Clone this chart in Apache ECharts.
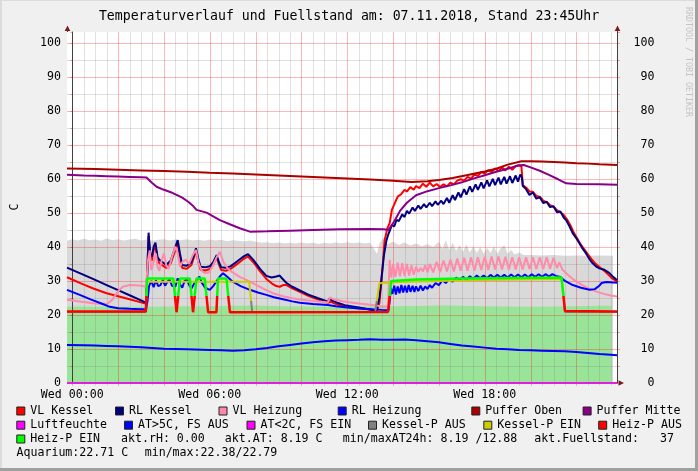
<!DOCTYPE html>
<html><head><meta charset="utf-8">
<script src="https://cdn.jsdelivr.net/npm/echarts@6/dist/echarts.min.js"></script>
<style>html,body{margin:0;padding:0;background:#F0F0F0}#c{width:698px;height:471px}</style>
</head><body><div id="c"></div>
<script>
// ---------- axis / tick data ----------
const X_MIN = -0.23, X_MAX = 23.77, Y_MAX = 103.2;
const xLabelHours = [0, 6, 12, 18];
const xLabelDay = 'Wed';

// ---------- series data: [hour, value] ----------
const fuellstand = [[-0.23,41.8],[0,42.3],[0.25,41.9],[0.5,42.4],[0.75,42.0],[1,42.2],[1.25,41.8],[1.5,42.5],[1.75,42.0],[2,42.3],[2.25,41.9],[2.5,42.2],[2.75,42.4],[3,41.9],[3.25,42.2],[3.5,41.8],[3.75,42.1],[4,42.3],[4.25,41.9],[4.5,42.2],[4.75,42.0],[5,42.3],[5.25,41.9],[5.5,42.1],[5.75,41.8],[6,42.2],[6.25,41.9],[6.5,42.1],[6.75,41.7],[7,42.0],[7.25,41.8],[7.5,41.6],[7.75,41.9],[8,41.5],[8.25,41.2],[8.5,41.4],[8.75,41.1],[9,41.3],[9.25,41.0],[9.5,41.2],[9.75,41.0],[10,41.3],[10.25,41.0],[10.5,41.2],[10.75,40.9],[11,41.2],[11.25,41.0],[11.5,41.3],[11.75,41.1],[12,41.4],[12.25,41.1],[12.5,41.3],[12.75,41.0],[13.0,41.2],[13.2,39.0],[13.3,38.0],[13.4,41.0],[13.6,42.8],[13.75,40.8],[14,41.5],[14.25,40.6],[14.5,41.3],[14.75,40.4],[15,41.0],[15.25,40.2],[15.5,40.8],[15.75,40.0],[16,41.5],[16.15,39.4],[16.3,42.0],[16.45,39.2],[16.6,41.2],[16.75,38.8],[16.9,40.6],[17.05,38.6],[17.2,40.8],[17.35,38.4],[17.5,40.2],[17.65,38.2],[17.8,40.0],[17.95,38.0],[18.1,39.8],[18.25,38.2],[18.4,40.2],[18.55,38.0],[18.7,39.6],[18.85,40.6],[19.0,38.0],[19.15,39.2],[19.3,37.8],[19.5,38.4],[19.7,37.6],[20,37.6],[20.5,37.5],[21,37.6],[21.5,37.4],[22,37.5],[22.5,37.4],[23,37.5],[23.6,37.4]];
const aquarium = [[-0.23,22.5],[1,22.45],[2,22.4],[3,22.45],[4,22.5],[5,22.55],[6,22.6],[7,22.7],[8,22.75],[9,22.6],[10,22.5],[11,22.4],[12,22.45],[13,22.5],[14,22.55],[15,22.65],[16,22.75],[17,22.7],[18,22.6],[19,22.5],[20,22.45],[21,22.5],[22,22.6],[23,22.7],[23.53,22.7]];
const vlKessel = [[-0.23,31.1],[0.4,29.2],[0.92,27.8],[1.5,26.4],[2.0,25.5],[2.5,24.6],[3.0,23.7],[3.22,23.3],[3.27,33.0],[3.33,43.2],[3.4,37.5],[3.47,36.0],[3.55,39.0],[3.63,40.5],[3.72,36.2],[3.8,35.2],[4.0,34.3],[4.1,33.8],[4.3,35.2],[4.45,38.2],[4.6,41.3],[4.7,37.0],[4.8,33.8],[5.0,33.6],[5.2,34.7],[5.3,36.8],[5.4,38.8],[5.5,35.6],[5.6,33.3],[5.8,33.1],[6.0,33.5],[6.15,34.8],[6.3,37.0],[6.4,34.8],[6.5,33.2],[6.7,33.0],[6.9,33.5],[7.1,34.5],[7.3,35.5],[7.5,36.6],[7.67,37.2],[7.9,35.5],[8.2,32.8],[8.47,30.6],[8.7,29.3],[8.9,28.5],[9.05,28.3],[9.2,28.8],[9.35,28.8],[9.6,27.8],[9.93,26.8],[10.3,25.6],[10.7,24.6],[11.15,23.6],[11.22,23.3],[11.3,23.9],[11.4,23.5],[11.6,23.0],[11.89,22.6],[12.5,22.0],[13.0,21.6],[13.3,21.3],[13.4,23.5],[13.5,30.5],[13.63,42.0],[13.75,45.5],[13.85,47.0],[13.95,51.0],[14.05,52.5],[14.2,54.8],[14.35,55.5],[14.5,56.8],[14.6,56.3],[14.75,57.6],[14.9,56.8],[15.0,57.9],[15.15,57.3],[15.3,58.6],[15.45,57.7],[15.6,58.9],[15.75,57.8],[15.9,58.5],[16.05,57.6],[16.2,58.4],[16.35,57.8],[16.5,58.9],[16.65,58.4],[16.8,59.5],[16.95,59.9],[17.1,59.5],[17.25,60.6],[17.4,60.1],[17.55,61.3],[17.7,60.9],[17.85,62.1],[18.0,61.6],[18.15,62.6],[18.3,62.0],[18.45,63.1],[18.6,62.3],[18.75,63.4],[18.9,62.5],[19.05,63.6],[19.2,62.7],[19.35,63.8],[19.5,64.0],[19.6,63.6],[19.66,58.2],[19.8,57.5],[19.95,56.3],[20.1,56.2],[20.25,55.0],[20.4,54.8],[20.55,53.6],[20.7,53.2],[20.85,52.3],[21.0,51.8],[21.15,50.8],[21.3,50.2],[21.45,49.4],[21.6,48.0],[21.75,46.2],[21.9,44.0],[22.05,42.3],[22.2,40.6],[22.35,39.2],[22.5,37.8],[22.65,36.5],[22.8,35.3],[22.95,34.4],[23.1,33.6],[23.25,32.8],[23.4,31.8],[23.55,30.8],[23.77,29.8]];
const rlKessel = [[-0.23,33.9],[0.5,31.8],[1,30.3],[1.5,28.8],[2,27.3],[2.5,25.8],[3,24.3],[3.22,23.6],[3.28,33.0],[3.33,44.2],[3.4,38.0],[3.47,37.1],[3.55,40.0],[3.63,41.3],[3.72,37.0],[3.8,36.2],[4.0,35.2],[4.1,34.7],[4.3,36.0],[4.45,39.0],[4.6,42.0],[4.7,38.0],[4.8,34.7],[5.0,34.5],[5.2,35.5],[5.3,37.5],[5.4,39.6],[5.5,36.5],[5.6,34.2],[5.8,34.0],[6.0,34.3],[6.15,35.5],[6.3,37.6],[6.4,35.5],[6.5,34.0],[6.7,33.9],[6.9,34.3],[7.1,35.3],[7.3,36.3],[7.5,37.3],[7.67,37.9],[7.9,36.2],[8.2,33.5],[8.47,31.5],[8.7,31.0],[8.9,31.3],[9.05,31.6],[9.15,30.8],[9.35,29.4],[9.6,28.3],[9.93,27.2],[10.3,26.0],[10.7,25.0],[11.15,23.9],[11.22,24.8],[11.35,24.2],[11.6,23.5],[11.89,22.9],[12.5,22.2],[13.0,21.6],[13.27,21.2],[13.4,25.0],[13.5,31.3],[13.6,37.5],[13.7,41.6],[13.78,43.5],[13.85,44.0],[13.95,46.5],[14.05,46.0],[14.15,48.0],[14.25,47.6],[14.4,49.6],[14.5,48.8],[14.6,50.6],[14.7,49.8],[14.85,51.6],[14.95,50.6],[15.1,52.2],[15.2,51.2],[15.35,52.6],[15.45,51.6],[15.6,53.0],[15.7,52.0],[15.85,53.4],[15.95,52.4],[16.1,53.6],[16.2,52.6],[16.35,54.4],[16.45,53.0],[16.6,55.2],[16.7,53.8],[16.85,56.0],[16.95,54.6],[17.1,57.0],[17.2,55.4],[17.35,57.8],[17.45,56.2],[17.6,58.4],[17.7,56.8],[17.85,59.0],[17.95,57.2],[18.1,59.6],[18.2,57.8],[18.35,60.0],[18.45,58.2],[18.6,60.4],[18.7,58.4],[18.85,60.6],[18.95,58.6],[19.1,60.8],[19.2,58.8],[19.35,61.0],[19.45,59.2],[19.55,61.3],[19.62,60.5],[19.66,57.9],[19.8,57.0],[19.95,55.3],[20.1,56.0],[20.25,54.2],[20.4,54.6],[20.55,52.9],[20.7,53.3],[20.85,51.7],[21.0,52.0],[21.15,50.2],[21.3,50.4],[21.45,48.6],[21.55,47.9],[21.7,46.0],[21.84,44.0],[22.0,42.5],[22.13,41.1],[22.27,39.5],[22.42,38.1],[22.56,36.5],[22.71,35.2],[22.85,34.3],[23.0,33.7],[23.1,33.5],[23.22,33.3],[23.3,33.8],[23.44,32.3],[23.6,31.2],[23.77,30.3]];
const vlHeizung = [[-0.23,24.5],[0.5,23.8],[1.0,23.4],[1.5,23.2],[1.75,24.5],[2.0,27.0],[2.2,28.3],[2.5,28.8],[2.9,28.7],[3.22,28.3],[3.3,36.0],[3.38,39.0],[3.45,33.2],[3.55,35.5],[3.65,38.1],[3.72,34.2],[3.8,33.0],[3.9,36.0],[4.0,38.1],[4.1,34.7],[4.2,33.5],[4.35,37.0],[4.5,40.1],[4.6,38.1],[4.7,34.2],[4.8,35.5],[4.95,36.3],[5.1,35.0],[5.25,37.5],[5.4,39.1],[5.5,35.5],[5.65,33.0],[5.8,32.3],[5.95,32.5],[6.1,34.0],[6.3,37.0],[6.44,38.6],[6.6,35.5],[6.8,33.5],[7.0,32.5],[7.3,31.2],[7.6,30.3],[8.0,28.9],[8.4,27.5],[8.76,26.4],[9.2,25.5],[9.6,24.9],[10,24.5],[10.5,24.1],[11,23.8],[11.15,23.7],[11.25,25.2],[11.4,24.6],[11.67,24.2],[12,23.8],[12.5,23.4],[13,23.0],[13.25,22.8],[13.5,22.6],[13.78,22.5],[13.85,36.2],[13.92,31.0],[14.0,35.0],[14.1,31.2],[14.2,35.4],[14.3,31.4],[14.4,35.2],[14.5,31.5],[14.6,35.0],[14.7,31.6],[14.8,34.6],[14.9,31.8],[15.0,34.2],[15.1,32.6],[15.2,33.8],[15.3,32.8],[15.4,34.6],[15.5,32.6],[15.6,35.0],[15.75,32.5],[15.9,35.6],[16.05,32.6],[16.2,36.0],[16.35,32.8],[16.5,36.3],[16.65,32.8],[16.8,36.6],[16.95,33.0],[17.1,36.8],[17.25,33.0],[17.4,37.0],[17.55,33.0],[17.7,37.0],[17.85,33.2],[18.0,37.1],[18.15,33.2],[18.3,37.2],[18.45,33.4],[18.6,37.2],[18.75,33.4],[18.9,37.1],[19.05,33.4],[19.2,37.0],[19.35,33.4],[19.5,37.0],[19.65,33.4],[19.8,37.0],[19.95,33.5],[20.1,37.0],[20.25,33.5],[20.4,37.0],[20.55,33.5],[20.7,37.0],[20.85,33.6],[21.0,36.8],[21.15,33.8],[21.25,35.5],[21.4,33.2],[21.6,32.0],[21.8,30.8],[22.0,29.8],[22.3,28.6],[22.6,27.6],[22.9,26.8],[23.2,26.2],[23.5,25.7],[23.77,25.4]];
const rlHeizung = [[-0.23,27.4],[0.3,26.0],[0.8,24.6],[1.3,23.3],[1.64,22.4],[2,22.0],[2.5,21.8],[3,21.7],[3.22,21.7],[3.28,24.0],[3.35,28.5],[3.45,30.0],[3.55,28.2],[3.65,30.2],[3.75,28.5],[3.85,28.8],[3.95,30.3],[4.05,28.6],[4.15,29.8],[4.25,30.4],[4.35,28.6],[4.5,28.4],[4.6,30.8],[4.7,29.0],[4.8,28.0],[4.9,30.0],[5.0,30.6],[5.1,28.8],[5.2,27.8],[5.3,29.0],[5.45,30.5],[5.55,31.3],[5.65,29.5],[5.8,28.0],[6.0,27.4],[6.15,28.5],[6.3,30.0],[6.45,31.4],[6.58,32.3],[6.8,31.0],[7.0,29.8],[7.35,28.5],[7.75,27.4],[8.1,26.6],[8.47,25.9],[8.8,25.2],[9.2,24.6],[9.6,24.0],[9.93,23.6],[10.5,23.2],[11.15,22.9],[11.5,22.6],[11.89,22.3],[12.5,21.9],[13,21.7],[13.5,21.5],[13.8,21.4],[13.85,24.0],[13.9,28.0],[13.97,26.2],[14.05,28.6],[14.12,26.0],[14.2,28.4],[14.28,26.4],[14.36,28.8],[14.44,26.6],[14.52,28.6],[14.6,26.6],[14.68,28.8],[14.76,26.8],[14.85,28.6],[14.93,26.8],[15.0,28.4],[15.1,27.0],[15.2,28.6],[15.3,27.2],[15.4,28.4],[15.5,27.6],[15.6,28.8],[15.7,28.0],[15.85,29.4],[16.0,28.8],[16.15,30.2],[16.3,29.4],[16.45,30.6],[16.6,29.8],[16.75,31.0],[16.9,30.2],[17.05,31.2],[17.2,30.4],[17.35,31.4],[17.5,30.6],[17.65,31.6],[17.8,30.8],[17.95,31.6],[18.1,30.8],[18.25,31.8],[18.4,31.0],[18.55,31.8],[18.7,31.0],[18.85,31.8],[19.0,31.0],[19.15,31.9],[19.3,31.1],[19.45,31.9],[19.6,31.1],[19.75,31.9],[19.9,31.1],[20.05,32.0],[20.2,31.2],[20.35,32.0],[20.5,31.2],[20.65,32.0],[20.8,31.3],[20.95,32.0],[21.1,31.5],[21.3,31.2],[21.5,30.0],[21.84,28.8],[22.2,28.0],[22.57,27.4],[22.8,27.6],[23.0,28.6],[23.1,29.4],[23.3,29.7],[23.77,29.5]];
const pufferOben = [[-0.23,63.1],[1,62.9],[2,62.7],[3,62.5],[4,62.3],[5,62.1],[6,61.8],[7,61.6],[8,61.3],[9,61.0],[10,60.7],[11,60.4],[12,60.1],[13,59.8],[14,59.5],[14.8,59.1],[15.5,59.3],[16,59.7],[16.6,60.3],[17.2,61.1],[18,62.2],[18.5,63.0],[19,64.2],[19.6,65.2],[20,65.2],[20.5,65.1],[21,65.0],[21.5,64.8],[22,64.6],[22.5,64.5],[23,64.3],[23.77,64.1]];
const pufferMitte = [[-0.23,61.2],[0.5,61.0],[1,60.9],[1.5,60.8],[2,60.7],[2.5,60.6],[3,60.5],[3.24,60.4],[3.45,59.0],[3.68,57.7],[4.0,56.8],[4.3,56.1],[4.55,55.3],[4.8,54.5],[5.06,53.3],[5.25,52.2],[5.42,50.9],[5.86,50.1],[6.15,49.0],[6.44,47.9],[6.9,46.6],[7.31,45.5],[7.75,44.5],[8.5,44.6],[9.5,44.8],[10.5,45.0],[11.67,45.2],[13,45.3],[13.6,45.2],[13.8,45.0],[14.0,47.0],[14.3,50.6],[14.6,53.0],[15.0,55.2],[15.5,56.4],[16,57.3],[16.5,58.1],[17,59.0],[17.5,60.1],[18,61.1],[18.5,62.1],[19,63.0],[19.5,64.0],[19.7,64.1],[20,63.4],[20.4,62.4],[20.8,61.2],[21.2,59.9],[21.55,58.7],[22,58.5],[23,58.4],[23.77,58.3]];
const luftfeuchte = [[-0.23,0],[12,0],[23.77,0]];
const aussenTemp = [[-0.23,11.2],[0.5,11.1],[1,11.0],[1.5,10.9],[2,10.8],[3,10.5],[4,10.1],[5,9.9],[6,9.7],[6.5,9.6],[7,9.5],[7.5,9.6],[8,9.9],[8.5,10.3],[9,10.8],[9.5,11.2],[10,11.6],[10.5,12.0],[11,12.3],[11.5,12.5],[12,12.6],[12.5,12.7],[13,12.88],[13.5,12.75],[14,12.7],[14.5,12.8],[15,12.6],[15.5,12.3],[16,12.0],[16.5,11.5],[17,11.0],[17.5,10.7],[18,10.4],[18.5,10.1],[19,9.9],[19.5,9.7],[20,9.6],[20.5,9.5],[21,9.4],[21.5,9.3],[22,9.1],[22.5,8.8],[23,8.5],[23.5,8.3],[23.77,8.19]];
const kesselPumpe = [[-0.23,20.9],[3.2,20.9],[3.27,29.8],[7.72,29.8],[7.85,20.9],[13.22,20.9],[13.4,29.3],[14,29.6],[16,30.0],[18,30.3],[21.35,30.6],[21.5,20.9],[23.77,20.9]];
const heizPumpe = [[-0.23,21.0],[3.21,21.0],[3.27,30.7],[4.41,30.7],[4.55,20.8],[4.62,20.8],[4.7,30.7],[5.13,30.7],[5.27,20.8],[5.35,20.8],[5.42,30.7],[5.78,30.7],[5.93,20.8],[6.29,20.8],[6.36,30.7],[6.73,30.7],[6.88,20.8],[13.78,20.9],[13.92,30.0],[15,30.4],[17,30.7],[19,30.9],[21.35,31.0],[21.5,21.2],[23.77,21.0]];

// ---------- legend text ----------
const legendRows = [
  [['VL Kessel','#FF0000',30.3],['RL Kessel','#000080',129],['VL Heizung','#FF8AAA',232.5],['RL Heizung','#0000FF',351.7],['Puffer Oben','#AA0000',485.3],['Puffer Mitte','#880088',596.6]],
  [['Luftfeuchte','#FF00FF',30.3],['AT>5C, FS AUS','#0000FF',138],['AT<2C, FS EIN','#FF00FF',260.5],['Kessel-P AUS','#808080',382],['Kessel-P EIN','#CCCC00',497.3],['Heiz-P AUS','#FF0000',612.2]],
  [['Heiz-P EIN','#00FF00',30.3]]
];
const infoTexts = [
  ['akt.rH: 0.00',121,2],['akt.AT: 8.19 C',224.8,2],['min/maxAT24h: 8.19 /12.88',342.8,2],['akt.Fuellstand:   37',534.3,2],
  ['Aquarium:22.71 C',16.5,3],['min/max:22.38/22.79',144.7,3]
];
const titleText = 'Temperaturverlauf und Fuellstand am: 07.11.2018, Stand 23:45Uhr';

// ---------- rendering ----------
const MONO = "'DejaVu Sans Mono', monospace";
const FS = 11.6;
const rowY = [411, 425.2, 439, 453.4];
const GRID_MAJ = 'rgba(255,0,0,0.28)';
const GRID_MIN = 'rgba(120,120,120,0.22)';

// vertical grid line table: [hour, major]
const vGrid = [];
for (let i = 0; i <= 47; i++) vGrid.push([i * 0.5, (i % 4 === 0) ? 1 : 0]);

const chart = echarts.init(document.getElementById('c'), null, {renderer: 'canvas'});

function lineSeries(name, data, color, z, width) {
  return {name, type: 'line', data, showSymbol: false, symbol: 'none', z: z || 3,
    lineStyle: {color, width: width || 2}, itemStyle: {color}, silent: true, animation: false};
}

const graphics = [];
graphics.push({type:'rect', shape:{x:0,y:0,width:698,height:1}, style:{fill:'#DCDCDC'}, z:100});
graphics.push({type:'rect', shape:{x:0,y:0,width:2,height:471}, style:{fill:'#DCDCDC'}, z:100});
graphics.push({type:'rect', shape:{x:695,y:0,width:3,height:471}, style:{fill:'#A0A0A0'}, z:100});
graphics.push({type:'rect', shape:{x:0,y:468,width:698,height:3}, style:{fill:'#A0A0A0'}, z:100});
graphics.push({type:'text', x:349, y:16.5, style:{text:titleText, font:'13.2px ' + MONO, fill:'#000', align:'center', verticalAlign:'middle'}, z:100});
graphics.push({type:'text', x:14.5, y:207, rotation:Math.PI/2, style:{text:'C', font:FS + 'px ' + MONO, fill:'#000', align:'center', verticalAlign:'middle'}, z:100});
graphics.push({type:'text', x:688, y:62, rotation:-Math.PI/2, style:{text:'RRDTOOL / TOBI OETIKER', font:'8.3px ' + MONO, fill:'#C4C4C4', align:'center', verticalAlign:'middle'}, z:100});
legendRows.forEach((row, r) => {
  row.forEach(([txt, col, x]) => {
    graphics.push({type:'rect', shape:{x:x-13.5, y:rowY[r]-4, width:8, height:8}, style:{fill:col, stroke:'#222', lineWidth:1}, z:100});
    graphics.push({type:'text', x:x, y:rowY[r], style:{text:txt, font:FS + 'px ' + MONO, fill:'#000', verticalAlign:'middle'}, z:100});
  });
});
infoTexts.forEach(([txt, x, r]) => {
  graphics.push({type:'text', x:x, y:rowY[r], style:{text:txt, font:FS + 'px ' + MONO, fill:'#000', verticalAlign:'middle'}, z:100});
});

const yLabel = {fontFamily: MONO, fontSize: FS, color: '#000', formatter: v => (Math.abs(v % 10) < 1e-6 && v <= 100) ? String(v) : ''};

const option = {
  animation: false,
  backgroundColor: '#F0F0F0',
  grid: {left: 67, top: 32, width: 550, height: 351, show: true, backgroundColor: '#FFFFFF', borderWidth: 0},
  xAxis: {type: 'value', min: X_MIN, max: X_MAX, z: 10,
    axisLine: {show: false}, splitLine: {show: false}, axisTick: {show: false},
    axisLabel: {customValues: xLabelHours, margin: 6, fontFamily: MONO, fontSize: FS, color: '#000',
      formatter: v => xLabelDay + ' ' + String(Math.round(v)).padStart(2, '0') + ':00'}},
  yAxis: [
    {type: 'value', min: 0, max: Y_MAX, interval: 5, position: 'left', z: 2,
      axisLine: {show: true, lineStyle: {color: '#404040', width: 1}},
      axisTick: {show: true, inside: false, length: 2, lineStyle: {color: 'rgba(255,0,0,0.35)'}},
      splitLine: {show: true, showMinLine: true, showMaxLine: false, lineStyle: {color: [GRID_MAJ, GRID_MIN], width: 1}},
      axisLabel: Object.assign({margin: 6}, yLabel)},
    {type: 'value', min: 0, max: Y_MAX, interval: 5, position: 'right', z: 2,
      axisLine: {show: true, lineStyle: {color: '#404040', width: 1}},
      axisTick: {show: true, inside: false, length: 3, lineStyle: {color: 'rgba(255,0,0,0.35)'}},
      splitLine: {show: false},
      axisLabel: Object.assign({margin: 37.5, align: 'right'}, yLabel)}
  ],
  visualMap: [
    {type: 'piecewise', show: false, seriesIndex: 12, dimension: 1,
      pieces: [{gte: 25.5, lte: 200, color: '#00FF00'}, {gte: -100, lt: 25.5, color: '#FF0000'}]},
    {type: 'piecewise', show: false, seriesIndex: 11, dimension: 1,
      pieces: [{gte: 24, lte: 200, color: '#CCCC00'}, {gte: -100, lt: 24, color: '#808080'}]}
  ],
  series: [
    {name: 'Fuellstand', type: 'line', data: fuellstand, showSymbol: false, symbol: 'none', z: 1, silent: true,
      lineStyle: {width: 0}, areaStyle: {color: '#D9D9D9', opacity: 1}},
    {name: 'Aquarium', type: 'line', data: aquarium, showSymbol: false, symbol: 'none', z: 1, silent: true,
      lineStyle: {width: 0}, areaStyle: {color: '#9AE49A', opacity: 1}},
    {type: 'custom', data: vGrid, z: 2, silent: true, clip: false, encode: {x: 0, y: 1},
      renderItem: (params, api) => {
        const h = api.value(0), maj = api.value(1);
        const top = api.coord([h, Y_MAX]), bot = api.coord([h, 0]);
        const x = Math.round(top[0]) + 0.5;
        return {type: 'line', shape: {x1: x, y1: top[1], x2: x, y2: bot[1] + 3}, style: {stroke: maj ? GRID_MAJ : GRID_MIN, lineWidth: 1}};
      }},
    lineSeries('VL Kessel', vlKessel, '#FF0000', 3),
    lineSeries('RL Kessel', rlKessel, '#000080', 3),
    lineSeries('VL Heizung', vlHeizung, '#FF8AAA', 3),
    lineSeries('RL Heizung', rlHeizung, '#0000FF', 3),
    lineSeries('Puffer Oben', pufferOben, '#AA0000', 3),
    lineSeries('Puffer Mitte', pufferMitte, '#880088', 3),
    Object.assign(lineSeries('Luftfeuchte', luftfeuchte, '#E020E0', 4), {clip: false}),
    lineSeries('AT', aussenTemp, '#0000FF', 3),
    {name: 'Kessel-P', type: 'line', data: kesselPumpe, showSymbol: false, symbol: 'none', z: 3, silent: true, lineStyle: {width: 2}},
    {name: 'Heiz-P', type: 'line', data: heizPumpe, showSymbol: false, symbol: 'none', z: 4, silent: true, lineStyle: {width: 2.5}}
  ],
  graphic: graphics
};
chart.setOption(option);

// axis arrows, positioned from the chart's own scales
const pTL = chart.convertToPixel({gridIndex: 0}, [X_MIN, Y_MAX]);
const pTR = chart.convertToPixel({gridIndex: 0}, [X_MAX, Y_MAX]);
const pBR = chart.convertToPixel({gridIndex: 0}, [X_MAX, 0]);
const arrowCol = '#7A1A1A';
const arrows = [];
[pTL, pTR].forEach(p => {
  const x = Math.round(p[0]) + 0.5, y = p[1];
  arrows.push({type: 'line', shape: {x1: x, y1: y, x2: x, y2: y - 3}, style: {stroke: '#404040', lineWidth: 1}, z: 101});
  arrows.push({type: 'polygon', shape: {points: [[x, y - 6.5], [x - 2.8, y - 1], [x + 2.8, y - 1]]}, style: {fill: arrowCol}, z: 101});
});
arrows.push({type: 'polygon', shape: {points: [[pBR[0] + 7, pBR[1]], [pBR[0] + 1.5, pBR[1] - 2.8], [pBR[0] + 1.5, pBR[1] + 2.8]]}, style: {fill: arrowCol}, z: 101});
chart.setOption({graphic: graphics.concat(arrows)});
</script>
</body></html>
